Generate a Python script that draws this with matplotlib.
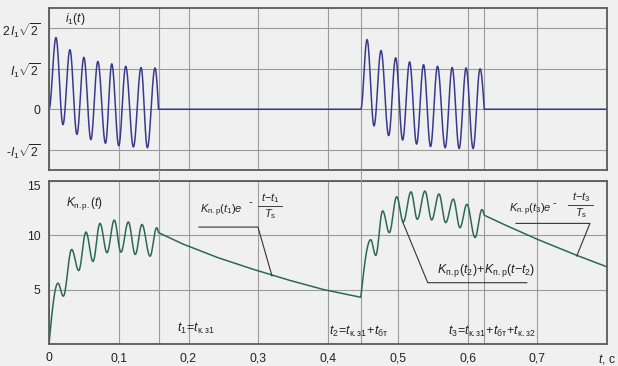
import numpy as np
import matplotlib
matplotlib.use('Agg')
import matplotlib.pyplot as plt
import matplotlib.transforms as mtransforms

plt.rcParams['font.family'] = ['Liberation Sans', 'DejaVu Sans']
plt.rcParams['mathtext.fontset'] = 'custom'
plt.rcParams['mathtext.rm'] = 'Liberation Sans'
plt.rcParams['mathtext.it'] = 'Liberation Sans:italic'
plt.rcParams['mathtext.bf'] = 'Liberation Sans:bold'

# ---------------- data ----------------
# current i1(t): extrema of the two short-circuit bursts
i1_burst1_t = [0, 0.010, 0.020, 0.030, 0.040, 0.050, 0.060, 0.070, 0.081,
               0.090, 0.100, 0.110, 0.121, 0.132, 0.141, 0.152, 0.157]
i1_burst1_v = [0, 1.77, -0.38, 1.47, -0.62, 1.28, -0.75, 1.18, -0.84,
               1.12, -0.90, 1.06, -0.93, 1.03, -0.95, 1.02, 0]
i1_burst2_t = [0.447, 0.456, 0.466, 0.476, 0.487, 0.497, 0.507, 0.517, 0.527,
               0.537, 0.547, 0.557, 0.568, 0.578, 0.588, 0.598, 0.608, 0.618, 0.624]
i1_burst2_v = [0, 1.72, -0.41, 1.45, -0.65, 1.27, -0.76, 1.17, -0.86,
               1.10, -0.92, 1.06, -0.95, 1.03, -0.97, 1.02, -0.97, 1.00, 0]

# K_np(t): rises (extrema) and decays (sampled points)
k_rise1_t = [0, 0.0129, 0.0205, 0.0325, 0.0426, 0.0530, 0.0631, 0.0731, 0.0832,
             0.0936, 0.1032, 0.1137, 0.1237, 0.1333, 0.1448, 0.1544, 0.157]
k_rise1_v = [0, 5.6, 4.4, 8.7, 6.76, 10.3, 7.6, 11.1, 8.4,
             11.4, 8.45, 11.23, 8.24, 11.0, 8.08, 10.7, 10.25]
k_decay1_t = [0.157, 0.192, 0.242, 0.294, 0.3455, 0.3943, 0.447]
k_decay1_v = [10.25, 9.2, 7.95, 6.85, 5.85, 5.0, 4.3]
k_rise2_t = [0.447, 0.4612, 0.4684, 0.4784, 0.4879, 0.4985, 0.5079, 0.519, 0.528,
             0.539, 0.5487, 0.5591, 0.5687, 0.5796, 0.5892, 0.5991, 0.6108, 0.6208, 0.624]
k_rise2_v = [4.3, 9.6, 8.15, 12.25, 10.25, 13.55, 11.23, 14.0, 11.48,
             14.07, 11.42, 13.8, 11.17, 13.33, 10.7, 12.85, 9.8, 12.37, 11.85]
k_decay2_t = [0.624, 0.654, 0.6996, 0.757, 0.80]
k_decay2_v = [11.85, 10.95, 9.65, 8.15, 7.1]

t_marks = [0.157, 0.447, 0.624]          # t1, t2, t3
x_ticks = [0, 0.1, 0.2, 0.3, 0.4, 0.5, 0.6, 0.7, 0.8]
x_labels = ['0', '0,1', '0,2', '0,3', '0,4', '0,5', '0,6', '0,7', '$t$, c']
top_yticks = [-1, 0, 1, 2]
top_ylabels = [r'-$I_1\sqrt{2}$', '0', r'$I_1\sqrt{2}$', r'$2\,I_1\sqrt{2}$']
bot_yticks = [5, 10, 15]
bot_ylabels = ['5', '10', '15']

# ---------------- helpers ----------------
def smooth(ts, vs, first='hc', last='qc', n=30):
    out_t, out_v = [], []
    m = len(ts) - 1
    for i in range(m):
        s = np.linspace(0, 1, n)
        if i == 0 and first == 'qs':
            f = np.sin(np.pi / 2 * s)
        elif i == m - 1 and last == 'qc':
            f = 1 - np.cos(np.pi / 2 * s)
        else:
            f = (1 - np.cos(np.pi * s)) / 2
        seg_t = ts[i] + (ts[i + 1] - ts[i]) * s
        seg_v = vs[i] + (vs[i + 1] - vs[i]) * f
        if i > 0:
            seg_t, seg_v = seg_t[1:], seg_v[1:]
        out_t.extend(seg_t)
        out_v.extend(seg_v)
    return np.array(out_t), np.array(out_v)

BG = '#eff0ef'
GRID = '#9c9c9c'
SPINE = '#5a5a5a'
BLUE = '#3a3a8c'
GREEN = '#2b6a52'
TXT = '#222222'

W, H = 618, 366
fig = plt.figure(figsize=(W / 100, H / 100), dpi=100, facecolor=BG)
ax1 = fig.add_axes([49 / W, 1 - 170 / H, 558 / W, 162 / H])
ax2 = fig.add_axes([49 / W, 1 - 344 / H, 558 / W, 163 / H])

for ax in (ax1, ax2):
    ax.set_facecolor(BG)
    ax.set_xlim(0, 0.8)
    ax.set_xticks(x_ticks)
    ax.grid(True, color=GRID, lw=0.8)
    ax.set_axisbelow(True)
    ax.tick_params(length=0, labelsize=8.7, colors=TXT, pad=6)
    for sp in ax.spines.values():
        sp.set_color(SPINE)
        sp.set_linewidth(1.3)
    for tm in t_marks:
        ax.axvline(tm, color=GRID, lw=0.8, zorder=0.5)

# ---------------- top: current ----------------
ax1.set_ylim(-1.5, 2.5)
ax1.set_yticks(top_yticks)
ax1.set_yticklabels(top_ylabels)
ax1.set_xticklabels([])
tb1, vb1 = smooth(i1_burst1_t, i1_burst1_v)
tb2, vb2 = smooth(i1_burst2_t, i1_burst2_v)
t_all = np.concatenate([tb1, [tb1[-1], tb2[0]], tb2, [tb2[-1], 0.8]])
v_all = np.concatenate([vb1, [0, 0], vb2, [0, 0]])
ax1.plot(t_all, v_all, color=BLUE, lw=1.1)
ax1.text(0.0373, 2.22, r'$i_1(t)$', fontsize=8.7, color=TXT, ha='center', va='center')

# ---------------- bottom: K ----------------
ax2.set_ylim(0, 15)
ax2.set_yticks(bot_yticks)
ax2.set_yticklabels(bot_ylabels)
ax2.set_xticklabels(x_labels)
ax2.get_yticklabels()[-1].set_va('top')
tr1, kr1 = smooth(k_rise1_t, k_rise1_v, first='qs')
tr2, kr2 = smooth(k_rise2_t, k_rise2_v, first='qs')
tk = np.concatenate([tr1, k_decay1_t[1:], tr2[1:], k_decay2_t[1:]])
kk = np.concatenate([kr1, k_decay1_v[1:], kr2[1:], k_decay2_v[1:]])
ax2.plot(tk, kk, color=GREEN, lw=1.1)

ax2.text(0.0244, 12.97, r'$K_{\mathrm{п.р.}}(t)$', fontsize=8.5, color=TXT, ha='left', va='center')

# vertical t1, t2 lines through the gap between axes
blend = mtransforms.blended_transform_factory(ax2.transData, fig.transFigure)
for tm in t_marks[:2]:
    fig.add_artist(plt.Line2D([tm, tm], [1 - 170 / H, 1 - 181 / H], transform=blend,
                              color=GRID, lw=0.8))

LC = '#333333'
FS = 9
FS2 = 8.0
renderer = fig.canvas.get_renderer()
px_per_t = 558 / 0.8


def exp_label(x_main, y_main, x_minus, y_minus, x_frac, bar_half,
              y_num, y_bar, y_den, main, num):
    tm = ax2.text(x_main, y_main, main, fontsize=FS2, color=TXT, ha='left', va='center')
    bb = tm.get_window_extent(renderer)
    end_t = ax2.transData.inverted().transform((bb.x1, bb.y0))[0]
    xm = max(x_minus, end_t + 3.5 / px_per_t)
    ax2.text(xm, y_minus, '-', fontsize=FS2, color=TXT, ha='center', va='center')
    xf = max(x_frac, xm + (bar_half + 6) / px_per_t)
    ax2.text(xf, y_num, num, fontsize=FS2, color=TXT, ha='center', va='center')
    ax2.text(xf, y_den, r'$T_\mathrm{s}$', fontsize=FS2, color=TXT, ha='center', va='center')
    ax2.plot([xf - bar_half / px_per_t, xf + bar_half / px_per_t], [y_bar, y_bar],
             color=TXT, lw=0.6)


# annotation 1
exp_label(0.2165, 12.24, 0.288, 13.06, 0.3168, 12, 13.45, 12.72, 11.95,
          r'$K_{\mathrm{п.р}}(t_1)e$', r'$t\mathrm{-}t_1$')
ax2.plot([0.215, 0.2996, 0.3197], [10.76, 10.76, 6.26], color=LC, lw=0.8)

# annotation 2
ax2.text(0.556, 6.8, r'$K_{\mathrm{п.р}}(t_2)\!+\!K_{\mathrm{п.р}}(t\mathrm{-}t_2)$', fontsize=FS,
         color=TXT, ha='left', va='center')
ax2.plot([0.507, 0.543, 0.685], [11.25, 5.64, 5.64], color=LC, lw=0.8)

# annotation 3
exp_label(0.6590, 12.33, 0.7111, 12.95, 0.7627, 12.5, 13.5, 12.79, 12.02,
          r'$K_{\mathrm{п.р}}(t_3)e$', r'$t\mathrm{-}t_3$')
ax2.plot([0.6695, 0.7756, 0.7566], [11.1, 11.1, 8.1], color=LC, lw=0.8)

# time marks labels
ax2.text(0.1835, 1.4, r'$t_1\!=\!t_{\mathrm{к.з1}}$', fontsize=FS, color=TXT, ha='left', va='center')
ax2.text(0.444, 1.2, r'$t_2\!=\!t_{\mathrm{к.з1}}\!+\!t_{\mathrm{бт}}$', fontsize=FS, color=TXT,
         ha='center', va='center')
ax2.text(0.635, 1.2, r'$t_3\!=\!t_{\mathrm{к.з1}}\!+\!t_{\mathrm{бт}}\!+\!t_{\mathrm{к.з2}}$', fontsize=FS,
         color=TXT, ha='center', va='center')

fig.savefig('out.png', dpi=100, facecolor=BG)
